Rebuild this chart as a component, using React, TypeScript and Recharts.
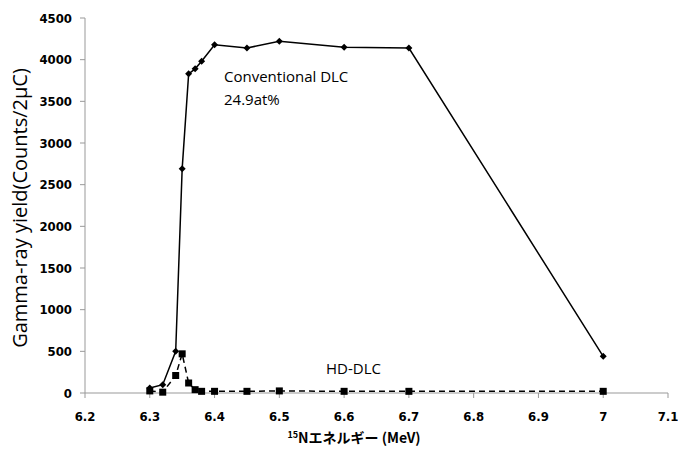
import { LineChart, Line, XAxis, YAxis, Customized } from "recharts";

const energies = [6.3, 6.32, 6.34, 6.35, 6.36, 6.37, 6.38, 6.4, 6.45, 6.5, 6.6, 6.7, 7.0];
const conventionalDlc = [60, 100, 500, 2690, 3830, 3890, 3980, 4180, 4140, 4220, 4150, 4140, 440];
const hdDlc = [25, 10, 210, 470, 120, 40, 20, 20, 20, 25, 20, 20, 20];

const xTicks = [6.2, 6.3, 6.4, 6.5, 6.6, 6.7, 6.8, 6.9, 7.0, 7.1];
const yTicks = [0, 500, 1000, 1500, 2000, 2500, 3000, 3500, 4000, 4500];

const data = energies.map((e, i) => ({
  energy: e,
  conventional: conventionalDlc[i],
  hd: hdDlc[i],
}));

const tickFont = "'Liberation Sans Narrow', 'DejaVu Sans Condensed', sans-serif";
const textFont = "'Open Sans', 'Noto Sans', sans-serif";

// page has an 8px body margin by default; drop it so the chart fills the window
if (typeof document !== "undefined") document.body.style.margin = "0";

const Diamond = ({ cx, cy }: any) => {
  if (cx == null || cy == null) return null;
  const s = 3.5;
  return (
    <path
      d={`M${cx},${cy - s}L${cx + s},${cy}L${cx},${cy + s}L${cx - s},${cy}Z`}
      fill="#000"
    />
  );
};

const Square = ({ cx, cy }: any) => {
  if (cx == null || cy == null) return null;
  const s = 3.5;
  return <rect x={cx - s} y={cy - s} width={s * 2} height={s * 2} fill="#000" />;
};

const Annotations = () => (
  <g fontFamily={textFont} fontSize={15} fill="#000">
    <text x={224} y={82}>Conventional DLC</text>
    <text x={224} y={105}>24.9at%</text>
    <text x={326} y={374}>HD-DLC</text>
    <text
      x={19}
      y={208}
      fontSize={20}
      textAnchor="middle"
      transform="rotate(-90 19 208)"
      dominantBaseline="central"
    >
      Gamma-ray yield(Counts/2μC)
    </text>
    <text
      x={354}
      y={443}
      textAnchor="middle"
      fontSize={14}
      fontWeight="bold"
      fontFamily="'Noto Sans CJK JP', sans-serif"
    >
      <tspan fontSize={9} dy={-5}>15</tspan>
      <tspan dy={5}>Nエネルギー (MeV)</tspan>
    </text>
  </g>
);

const App = () => {
  return (
    <div style={{ width: 678, height: 461, overflow: "hidden" }}>
      <LineChart
        width={678}
        height={461}
        data={data}
        margin={{ top: 18, right: 10, bottom: 0, left: 0 }}
      >
        <XAxis
          dataKey="energy"
          type="number"
          domain={[6.2, 7.1]}
          ticks={xTicks}
          allowDataOverflow
          tickFormatter={(v: number) => (v === 7 ? "7" : v.toFixed(1))}
          height={68}
          stroke="#999"
          tickSize={5}
          tickMargin={14}
          tick={{ fill: "#000", fontSize: 13, fontWeight: "bold", fontFamily: tickFont }}
        />
        <YAxis
          type="number"
          domain={[0, 4500]}
          ticks={yTicks}
          width={85}
          stroke="#999"
          tickSize={5}
          tickMargin={8}
          tick={{ fill: "#000", fontSize: 13, fontWeight: "bold", fontFamily: tickFont }}
        />
        <Line
          dataKey="conventional"
          stroke="#000"
          strokeWidth={1.5}
          dot={<Diamond />}
          activeDot={false}
          isAnimationActive={false}
        />
        <Line
          dataKey="hd"
          stroke="#000"
          strokeWidth={1.5}
          strokeDasharray="6 4"
          dot={<Square />}
          activeDot={false}
          isAnimationActive={false}
        />
        <Customized component={Annotations} />
      </LineChart>
    </div>
  );
};

export default App;
